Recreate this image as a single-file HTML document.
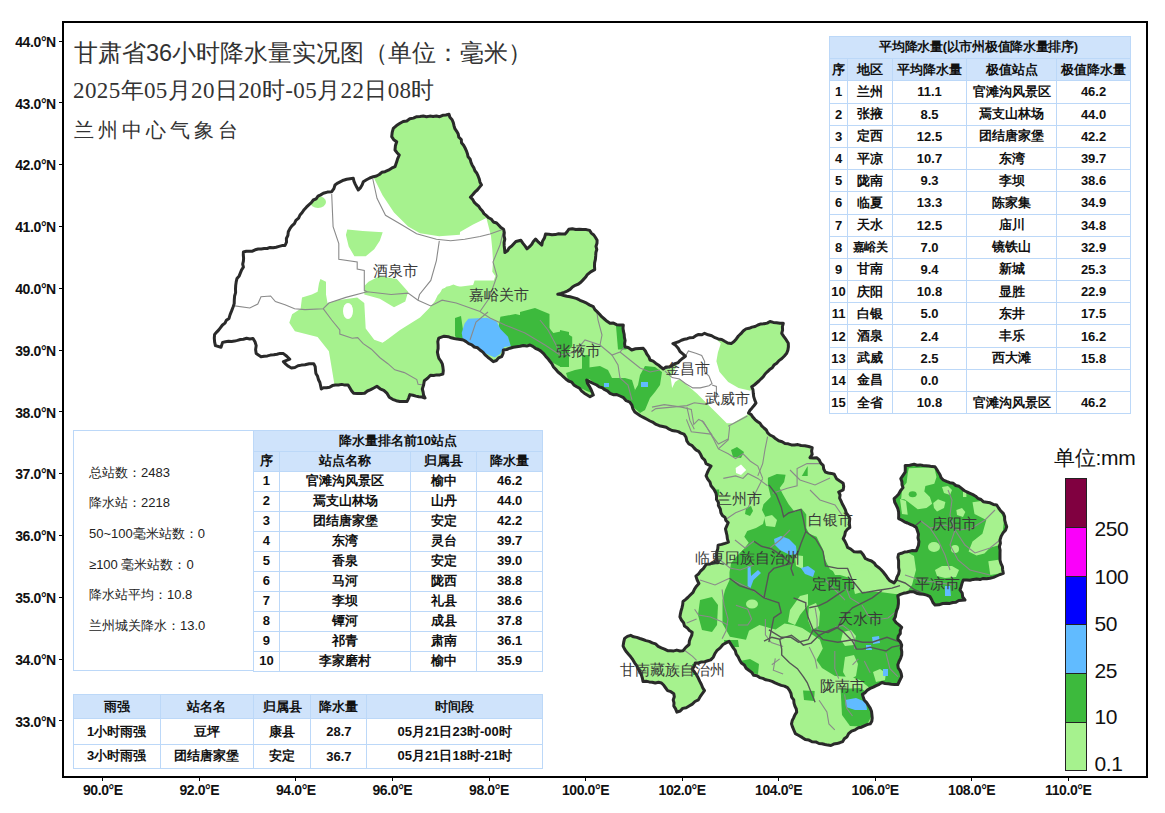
<!DOCTYPE html>
<html><head><meta charset="utf-8">
<style>
*{margin:0;padding:0;box-sizing:border-box}
html,body{width:1165px;height:813px;background:#fff;overflow:hidden;font-family:"Liberation Sans",sans-serif}
.abs{position:absolute}
#frame{position:absolute;left:62px;top:21px;width:1086px;height:757px;border:2px solid #000}
.yl{position:absolute;left:0;width:55.8px;text-align:right;font-weight:bold;font-size:14px;letter-spacing:-0.4px;color:#111;line-height:16px}
.xl{position:absolute;top:782px;width:60px;text-align:center;font-weight:bold;font-size:14px;letter-spacing:-0.4px;color:#111;line-height:16px}
.tk{position:absolute;background:#000}
table{border-collapse:collapse;position:absolute;font-weight:bold;font-size:13px;color:#111;table-layout:fixed}
td{border:1px solid #bcd8f8;text-align:center;padding:0;white-space:nowrap;overflow:hidden}
.h td,td.h{background:#cfe3fb}
</style></head><body>

<div id="frame"></div>
<div class="yl" style="top:33.8px">44.0°N</div>
<div class="tk" style="left:59px;top:40.5px;width:3px;height:1px"></div>
<div class="yl" style="top:95.6px">43.0°N</div>
<div class="tk" style="left:59px;top:102.3px;width:3px;height:1px"></div>
<div class="yl" style="top:157.4px">42.0°N</div>
<div class="tk" style="left:59px;top:164.1px;width:3px;height:1px"></div>
<div class="yl" style="top:219.2px">41.0°N</div>
<div class="tk" style="left:59px;top:225.9px;width:3px;height:1px"></div>
<div class="yl" style="top:281.0px">40.0°N</div>
<div class="tk" style="left:59px;top:287.7px;width:3px;height:1px"></div>
<div class="yl" style="top:342.8px">39.0°N</div>
<div class="tk" style="left:59px;top:349.5px;width:3px;height:1px"></div>
<div class="yl" style="top:404.6px">38.0°N</div>
<div class="tk" style="left:59px;top:411.3px;width:3px;height:1px"></div>
<div class="yl" style="top:466.4px">37.0°N</div>
<div class="tk" style="left:59px;top:473.1px;width:3px;height:1px"></div>
<div class="yl" style="top:528.2px">36.0°N</div>
<div class="tk" style="left:59px;top:534.9px;width:3px;height:1px"></div>
<div class="yl" style="top:590.0px">35.0°N</div>
<div class="tk" style="left:59px;top:596.7px;width:3px;height:1px"></div>
<div class="yl" style="top:651.8px">34.0°N</div>
<div class="tk" style="left:59px;top:658.5px;width:3px;height:1px"></div>
<div class="yl" style="top:713.6px">33.0°N</div>
<div class="tk" style="left:59px;top:720.3px;width:3px;height:1px"></div>
<div class="xl" style="left:72.8px">90.0°E</div>
<div class="tk" style="left:102.3px;top:778px;width:1px;height:3px"></div>
<div class="xl" style="left:169.3px">92.0°E</div>
<div class="tk" style="left:198.8px;top:778px;width:1px;height:3px"></div>
<div class="xl" style="left:265.9px">94.0°E</div>
<div class="tk" style="left:295.4px;top:778px;width:1px;height:3px"></div>
<div class="xl" style="left:362.4px">96.0°E</div>
<div class="tk" style="left:391.9px;top:778px;width:1px;height:3px"></div>
<div class="xl" style="left:459.0px">98.0°E</div>
<div class="tk" style="left:488.5px;top:778px;width:1px;height:3px"></div>
<div class="xl" style="left:555.5px">100.0°E</div>
<div class="tk" style="left:585.0px;top:778px;width:1px;height:3px"></div>
<div class="xl" style="left:652.1px">102.0°E</div>
<div class="tk" style="left:681.6px;top:778px;width:1px;height:3px"></div>
<div class="xl" style="left:748.6px">104.0°E</div>
<div class="tk" style="left:778.1px;top:778px;width:1px;height:3px"></div>
<div class="xl" style="left:845.2px">106.0°E</div>
<div class="tk" style="left:874.7px;top:778px;width:1px;height:3px"></div>
<div class="xl" style="left:941.7px">108.0°E</div>
<div class="tk" style="left:971.2px;top:778px;width:1px;height:3px"></div>
<div class="xl" style="left:1038.3px">110.0°E</div>
<div class="tk" style="left:1067.8px;top:778px;width:1px;height:3px"></div>
<svg class="abs" style="left:0;top:0" width="1165" height="813" viewBox="0 0 1165 813">
<defs><clipPath id="gs"><polygon points="393.3,128.3 400.0,123.3 416.7,116.7 439.7,116.7 449.0,114.3 481.5,184.9 470.4,197.2 486.4,215.6 503.6,229.2 504.9,252.5 515.9,241.5 520.9,240.2 527.0,248.8 535.6,239.0 541.8,245.1 545.5,234.1 565.1,234.1 568.8,229.2 589.7,230.4 597.1,240.2 595.9,252.5 594.7,269.7 587.3,274.7 581.1,282.0 570.1,289.4 557.8,294.3 570.0,296.7 583.3,301.7 593.3,306.7 601.7,316.7 610.0,323.3 623.3,325.0 625.0,346.7 631.7,350.0 643.3,348.3 650.0,360.0 663.3,369.0 678.0,362.8 685.4,356.2 672.9,343.6 704.6,333.3 715.0,337.7 731.2,343.6 746.0,328.9 770.0,321.5 783.3,323.3 781.7,333.3 788.3,343.3 786.7,353.3 776.7,363.3 763.3,376.7 751.7,386.7 756.0,403.0 748.5,413.0 760.0,423.3 770.0,435.0 785.0,443.5 801.1,445.5 812.2,447.7 812.2,454.4 810.0,457.7 816.6,457.7 823.2,465.4 825.4,472.1 834.3,474.3 836.5,478.7 843.2,483.2 843.2,489.8 838.7,492.0 841.0,500.9 845.4,509.8 849.8,518.6 849.8,527.5 845.4,531.9 843.2,538.6 847.6,547.4 854.2,551.8 860.9,551.8 865.3,558.5 874.2,562.9 878.6,567.4 883.0,571.8 889.7,580.6 894.1,582.9 898.6,574.0 898.6,554.1 907.4,551.8 916.3,550.7 918.5,545.2 918.5,534.1 916.3,527.5 907.4,523.0 898.6,518.6 898.6,512.0 896.3,505.3 894.1,498.7 898.6,494.2 903.0,487.6 900.8,478.7 905.2,472.1 905.2,465.4 914.1,464.3 935.0,466.7 943.3,480.0 953.3,483.3 970.0,493.3 983.3,501.7 996.7,505.0 1003.3,513.3 1006.7,526.7 1000.0,540.0 1000.0,556.7 1003.3,573.3 990.0,578.3 963.3,580.0 960.0,590.0 965.0,600.0 946.7,603.3 935.0,605.0 930.0,596.7 913.3,591.7 903.3,593.3 897.8,595.9 897.8,607.7 893.9,619.5 901.7,627.4 897.8,639.2 901.7,645.1 901.7,655.0 897.8,664.8 901.7,676.6 897.8,684.5 882.0,682.5 870.2,688.4 862.4,694.3 864.3,700.2 870.2,708.1 872.2,718.0 870.2,723.9 858.4,727.8 848.6,733.7 842.7,741.6 830.9,745.5 819.0,743.5 805.3,739.6 795.4,733.7 791.5,723.9 796.7,712.1 793.7,699.9 787.5,687.6 772.1,681.4 753.7,675.3 741.4,663.0 735.3,650.7 729.1,641.4 723.0,644.5 716.8,650.7 710.7,659.9 695.3,663.0 692.2,669.1 698.4,678.3 704.5,690.6 698.4,699.9 689.1,706.0 676.9,712.1 673.8,706.0 673.8,693.7 667.6,690.6 661.5,683.0 643.0,681.4 640.0,672.2 630.7,656.8 623.1,646.1 624.6,638.4 630.7,635.3 649.2,641.4 667.6,650.7 683.0,650.7 689.1,644.5 692.2,632.2 684.5,626.1 679.9,616.9 683.0,601.5 690.0,595.3 693.0,592.4 698.9,583.5 695.9,576.1 703.3,568.7 706.2,564.3 718.1,562.8 716.6,555.5 718.1,545.1 728.4,542.2 725.5,528.9 728.2,522.7 720.9,512.8 718.4,505.5 716.0,493.2 711.0,485.8 706.1,475.9 711.0,466.1 706.1,463.6 698.7,451.3 688.9,444.0 684.0,434.1 669.2,429.2 650.0,421.0 634.8,412.0 629.8,402.1 620.0,396.0 610.0,393.3 596.7,385.0 586.7,380.0 593.3,395.0 590.0,396.7 576.7,386.7 563.3,376.7 553.3,366.7 543.3,353.3 530.0,345.0 516.7,346.7 503.3,350.0 501.7,356.7 493.3,361.7 480.0,350.0 463.3,340.0 448.3,336.7 444.2,336.2 438.7,338.2 437.4,352.0 442.9,367.1 442.9,374.0 430.5,375.3 424.3,380.8 422.3,389.0 425.0,398.0 409.9,394.6 407.1,401.4 396.2,400.7 389.3,397.3 383.8,390.4 376.9,386.3 364.6,393.2 353.6,393.2 348.1,385.0 338.5,385.0 323.4,387.7 321.3,389.0 313.7,363.7 305.0,364.8 291.4,368.0 283.4,361.6 289.8,359.2 283.4,353.6 261.0,356.8 256.2,353.6 256.2,345.6 253.0,338.4 243.4,339.2 222.6,342.4 221.0,347.2 215.4,345.6 214.6,334.4 229.0,318.4 233.0,307.2 234.6,296.0 237.0,278.4 243.4,267.2 243.4,252.0 285.0,245.5 288.3,231.7 300.0,215.0 313.3,200.0 323.3,193.3 331.7,191.7 335.0,185.0 346.7,179.3 353.3,178.3 358.3,190.0 363.3,181.7 373.3,176.7 385.0,171.7 395.0,166.7 396.7,161.7 399.3,155.0 395.0,150.0 396.7,141.7 391.7,136.7"/></clipPath></defs>
<polygon points="393.3,128.3 400.0,123.3 416.7,116.7 439.7,116.7 449.0,114.3 481.5,184.9 470.4,197.2 486.4,215.6 503.6,229.2 504.9,252.5 515.9,241.5 520.9,240.2 527.0,248.8 535.6,239.0 541.8,245.1 545.5,234.1 565.1,234.1 568.8,229.2 589.7,230.4 597.1,240.2 595.9,252.5 594.7,269.7 587.3,274.7 581.1,282.0 570.1,289.4 557.8,294.3 570.0,296.7 583.3,301.7 593.3,306.7 601.7,316.7 610.0,323.3 623.3,325.0 625.0,346.7 631.7,350.0 643.3,348.3 650.0,360.0 663.3,369.0 678.0,362.8 685.4,356.2 672.9,343.6 704.6,333.3 715.0,337.7 731.2,343.6 746.0,328.9 770.0,321.5 783.3,323.3 781.7,333.3 788.3,343.3 786.7,353.3 776.7,363.3 763.3,376.7 751.7,386.7 756.0,403.0 748.5,413.0 760.0,423.3 770.0,435.0 785.0,443.5 801.1,445.5 812.2,447.7 812.2,454.4 810.0,457.7 816.6,457.7 823.2,465.4 825.4,472.1 834.3,474.3 836.5,478.7 843.2,483.2 843.2,489.8 838.7,492.0 841.0,500.9 845.4,509.8 849.8,518.6 849.8,527.5 845.4,531.9 843.2,538.6 847.6,547.4 854.2,551.8 860.9,551.8 865.3,558.5 874.2,562.9 878.6,567.4 883.0,571.8 889.7,580.6 894.1,582.9 898.6,574.0 898.6,554.1 907.4,551.8 916.3,550.7 918.5,545.2 918.5,534.1 916.3,527.5 907.4,523.0 898.6,518.6 898.6,512.0 896.3,505.3 894.1,498.7 898.6,494.2 903.0,487.6 900.8,478.7 905.2,472.1 905.2,465.4 914.1,464.3 935.0,466.7 943.3,480.0 953.3,483.3 970.0,493.3 983.3,501.7 996.7,505.0 1003.3,513.3 1006.7,526.7 1000.0,540.0 1000.0,556.7 1003.3,573.3 990.0,578.3 963.3,580.0 960.0,590.0 965.0,600.0 946.7,603.3 935.0,605.0 930.0,596.7 913.3,591.7 903.3,593.3 897.8,595.9 897.8,607.7 893.9,619.5 901.7,627.4 897.8,639.2 901.7,645.1 901.7,655.0 897.8,664.8 901.7,676.6 897.8,684.5 882.0,682.5 870.2,688.4 862.4,694.3 864.3,700.2 870.2,708.1 872.2,718.0 870.2,723.9 858.4,727.8 848.6,733.7 842.7,741.6 830.9,745.5 819.0,743.5 805.3,739.6 795.4,733.7 791.5,723.9 796.7,712.1 793.7,699.9 787.5,687.6 772.1,681.4 753.7,675.3 741.4,663.0 735.3,650.7 729.1,641.4 723.0,644.5 716.8,650.7 710.7,659.9 695.3,663.0 692.2,669.1 698.4,678.3 704.5,690.6 698.4,699.9 689.1,706.0 676.9,712.1 673.8,706.0 673.8,693.7 667.6,690.6 661.5,683.0 643.0,681.4 640.0,672.2 630.7,656.8 623.1,646.1 624.6,638.4 630.7,635.3 649.2,641.4 667.6,650.7 683.0,650.7 689.1,644.5 692.2,632.2 684.5,626.1 679.9,616.9 683.0,601.5 690.0,595.3 693.0,592.4 698.9,583.5 695.9,576.1 703.3,568.7 706.2,564.3 718.1,562.8 716.6,555.5 718.1,545.1 728.4,542.2 725.5,528.9 728.2,522.7 720.9,512.8 718.4,505.5 716.0,493.2 711.0,485.8 706.1,475.9 711.0,466.1 706.1,463.6 698.7,451.3 688.9,444.0 684.0,434.1 669.2,429.2 650.0,421.0 634.8,412.0 629.8,402.1 620.0,396.0 610.0,393.3 596.7,385.0 586.7,380.0 593.3,395.0 590.0,396.7 576.7,386.7 563.3,376.7 553.3,366.7 543.3,353.3 530.0,345.0 516.7,346.7 503.3,350.0 501.7,356.7 493.3,361.7 480.0,350.0 463.3,340.0 448.3,336.7 444.2,336.2 438.7,338.2 437.4,352.0 442.9,367.1 442.9,374.0 430.5,375.3 424.3,380.8 422.3,389.0 425.0,398.0 409.9,394.6 407.1,401.4 396.2,400.7 389.3,397.3 383.8,390.4 376.9,386.3 364.6,393.2 353.6,393.2 348.1,385.0 338.5,385.0 323.4,387.7 321.3,389.0 313.7,363.7 305.0,364.8 291.4,368.0 283.4,361.6 289.8,359.2 283.4,353.6 261.0,356.8 256.2,353.6 256.2,345.6 253.0,338.4 243.4,339.2 222.6,342.4 221.0,347.2 215.4,345.6 214.6,334.4 229.0,318.4 233.0,307.2 234.6,296.0 237.0,278.4 243.4,267.2 243.4,252.0 285.0,245.5 288.3,231.7 300.0,215.0 313.3,200.0 323.3,193.3 331.7,191.7 335.0,185.0 346.7,179.3 353.3,178.3 358.3,190.0 363.3,181.7 373.3,176.7 385.0,171.7 395.0,166.7 396.7,161.7 399.3,155.0 395.0,150.0 396.7,141.7 391.7,136.7" fill="#a6f28e"/>
<g clip-path="url(#gs)">
<polygon points="373.3,176.7 382.7,195.5 394.0,212.5 408.1,226.6 420.0,233.3 439.2,236.2 459.9,234.8 460.0,232.0 473.1,224.4 486.4,218.0 491.0,236.0 492.3,249.5 493.0,261.3 492.3,271.7 495.3,276.1 493.8,280.5 474.6,280.5 473.1,285.0 461.3,286.4 446.6,286.4 437.7,295.3 434.8,301.2 428.9,308.6 420.0,317.4 400.0,330.0 380.0,345.0 360.0,360.0 330.0,400.0 200.0,400.0 200.0,170.0" fill="#fff"/>
<polygon points="347.3,229.4 362.8,230.9 382.7,232.3 379.8,240.8 374.2,249.3 365.7,256.3 354.4,256.3 348.7,246.4 345.9,235.1" fill="#a6f28e"/>
<polygon points="368.5,281.8 379.8,276.1 396.8,279.0 408.1,291.7 405.3,301.6 394.0,307.3 379.8,298.8 364.3,294.5 364.3,286.0" fill="#a6f28e"/>
<polygon points="320.4,279.0 326.0,281.8 326.0,294.5 327.5,303.0 337.4,300.2 357.2,297.4 364.3,303.0 365.7,328.5 374.2,339.8 382.7,342.7 396.8,334.2 419.5,320.0 436.4,300.2 442.1,288.9 453.4,284.6 464.7,288.9 473.2,294.5 480.0,288.9 500.0,280.0 520.0,300.0 520.0,420.0 430.0,420.0 334.5,420.0 334.5,385.1 331.7,368.1 328.9,351.2 317.6,337.0 294.9,331.3 289.3,322.8 292.1,314.3 300.6,308.7 302.0,297.4 311.9,294.5 317.6,291.7 319.0,283.2" fill="#a6f28e"/>
<ellipse cx="318" cy="202" rx="8" ry="6" fill="#a6f28e"/>
<ellipse cx="348" cy="311" rx="5" ry="8" fill="#fff"/>
<polygon points="672.9,343.6 704.6,333.3 715.0,337.7 720.8,343.6 717.9,352.5 716.4,361.3 719.4,371.7 728.2,382.0 738.6,387.9 750.4,390.8 753.3,386.4 757.0,400.0 750.4,408.6 747.4,414.5 732.7,423.3 726.8,423.3 715.0,411.5 706.1,402.7 697.2,393.8 686.9,385.0 679.5,379.0 675.1,382.0 672.1,387.9 670.7,377.6 678.0,362.8 685.4,356.2" fill="#fff"/>
<polygon points="735.7,468 741,464.4 746.2,470 741,474.9 736,473" fill="#fff"/>
<polygon points="455.0,318.0 461.0,316.0 463.0,330.0 466.0,340.0 470.0,345.0 460.0,342.0 455.0,336.0" fill="#3dba3d"/>
<polygon points="500.4,316.8 515.5,314.0 530.7,317.8 545.8,323.4 553.3,332.9 562.8,331.0 572.2,336.7 572.2,346.1 564.6,355.5 560.9,366.9 553.3,363.1 545.8,355.5 534.4,349.9 526.9,344.2 519.3,348.0 511.8,348.0 504.2,336.7 498.5,327.2" fill="#3dba3d"/>
<polygon points="520.0,312.0 535.0,308.0 549.5,314.0 549.5,329.0 520.0,329.0" fill="#3dba3d"/>
<polygon points="560.0,330.0 569.0,332.0 569.0,367.0 560.0,367.0" fill="#3dba3d"/>
<polygon points="566.0,373.0 575.0,370.0 585.0,368.0 600.0,366.0 608.0,370.0 612.0,378.0 625.0,378.0 632.0,380.0 635.0,390.0 632.0,402.0 622.0,396.8 611.7,395.3 601.4,389.4 589.5,379.1 586.6,380.6 594.0,393.8 586.6,390.9 568.9,382.0" fill="#3dba3d"/>
<polygon points="582.0,355.0 589.5,355.0 589.5,376.0 582.0,376.0" fill="#3dba3d"/>
<polygon points="645.0,366.0 655.0,367.0 662.0,372.0 660.0,385.0 655.0,392.0 650.0,398.0 645.0,410.0 640.0,413.0 631.0,405.0 632.0,395.0 638.0,385.0 640.0,375.0" fill="#3dba3d"/>
<polygon points="616.0,326.0 626.5,326.0 626.5,349.5 618.0,349.5" fill="#3dba3d"/>
<polygon points="767.9,477.7 776.8,474.0 785.6,474.8 784.1,482.1 779.7,488.0 782.7,494.0 788.6,504.3 794.5,511.7 801.8,508.7 806.3,514.6 806.3,527.9 809.2,533.8 816.6,536.8 822.5,548.6 825.5,560.4 829.9,569.2 840.0,575.0 850.0,578.0 865.0,592.0 880.0,592.0 895.0,594.0 905.0,600.0 905.0,690.0 872.0,690.0 860.0,680.0 851.0,677.0 835.0,676.0 822.0,668.0 816.5,660.0 822.8,648.6 819.9,639.7 811.0,633.8 802.2,627.9 793.3,625.0 784.5,623.5 775.6,629.4 769.7,627.9 759.4,625.0 749.0,630.8 746.0,639.7 729.9,636.8 722.5,623.5 722.5,600.0 725.0,590.0 729.5,580.0 729.5,572.2 731.0,563.3 736.9,555.9 744.3,548.6 748.7,542.7 744.3,536.8 747.2,531.0 756.0,528.0 763.0,524.0 765.0,516.0 762.0,510.0 763.5,504.3 770.8,496.9 767.9,485.1" fill="#3dba3d"/>
<polygon points="700.0,600.0 712.0,597.0 718.0,605.0 717.0,625.0 712.0,632.0 702.0,630.0 698.0,615.0" fill="#3dba3d"/>
<polygon points="724.0,640.0 738.0,640.0 739.0,647.0 725.0,647.0" fill="#3dba3d"/>
<polygon points="740.0,661.0 750.0,659.0 759.0,664.0 758.0,674.0 742.0,673.0" fill="#3dba3d"/>
<polygon points="692.0,664.0 700.0,663.0 701.0,675.0 693.0,675.0" fill="#3dba3d"/>
<polygon points="840.6,689.0 860.0,688.0 872.0,695.0 872.0,715.0 866.0,726.8 850.0,726.0 842.0,715.0" fill="#3dba3d"/>
<polygon points="803.0,690.6 814.7,691.0 814.0,701.0 804.0,700.0" fill="#3dba3d"/>
<polygon points="746.0,508.0 751.0,506.0 753.0,511.0 750.0,516.0 745.0,514.0" fill="#3dba3d"/>
<polygon points="714.8,489.5 719.2,489.5 719.2,495.4 714.8,495.4" fill="#3dba3d"/>
<polygon points="801.8,476.0 807.7,466.0 807.7,476.0" fill="#3dba3d"/>
<polygon points="731.0,450.0 737.0,447.0 744.0,452.0 741.0,458.0 733.0,457.0" fill="#3dba3d"/>
<polygon points="895.0,460.0 1010.0,460.0 1010.0,610.0 895.0,610.0" fill="#3dba3d"/>
<polygon points="908.8,468.3 934.3,467.2 936.5,477.1 934.3,483.8 925.4,486.0 924.3,491.5 929.9,497.1 932.1,503.7 926.5,508.1 917.7,509.2 907.7,501.5 904.4,499.3 901.1,499.3 902.2,488.2 906.6,482.7 907.7,473.8" fill="#a6f28e"/>
<polygon points="900.0,499.0 906.0,501.0 907.7,514.8 902.0,514.0" fill="#a6f28e"/>
<polygon points="933.2,503.0 938.0,499.3 945.4,502.0 944.0,508.0 937.0,511.5 934.0,508.0" fill="#a6f28e"/>
<polygon points="942.0,487.0 948.0,486.0 952.0,490.0 950.0,494.9 944.0,493.0" fill="#a6f28e"/>
<polygon points="956.4,510.0 962.0,508.0 965.3,512.0 963.0,517.0 957.0,515.0" fill="#a6f28e"/>
<polygon points="963.0,490.4 966.4,490.4 966.4,497.1 963.0,497.1" fill="#a6f28e"/>
<polygon points="972.5,502.3 986.3,500.3 998.1,506.2 1004.0,520.0 1002.1,537.7 998.1,545.6 990.3,547.5 984.4,553.4 976.5,555.4 968.6,551.5 972.5,541.6 982.4,533.8 986.3,520.0 974.5,514.1" fill="#a6f28e"/>
<polygon points="988.3,561.3 1000.1,559.4 1002.1,573.1 990.3,575.1" fill="#a6f28e"/>
<polygon points="895.0,553.0 905.0,551.0 914.0,556.0 916.0,570.0 912.0,585.0 906.0,593.0 895.0,593.0" fill="#a6f28e"/>
<polygon points="935.0,570.0 942.0,566.0 952.0,566.0 959.0,570.0 956.0,577.0 945.0,578.0 937.0,576.0" fill="#a6f28e"/>
<polygon points="764.0,517.0 772.0,515.0 777.0,520.0 775.0,527.0 766.0,526.0" fill="#a6f28e"/>
<polygon points="795.0,555.0 803.0,556.0 803.0,569.0 796.0,566.0" fill="#a6f28e"/>
<polygon points="790.0,610.0 800.0,596.0 808.0,594.0 808.0,605.0 800.0,615.0 795.0,625.0 788.0,622.0" fill="#a6f28e"/>
<polygon points="809.0,606.0 816.0,603.0 820.0,612.0 819.0,626.0 812.0,630.0 808.0,620.0" fill="#a6f28e"/>
<polygon points="830.0,565.0 845.0,562.0 855.0,565.0 850.0,575.0 835.0,575.0" fill="#a6f28e"/>
<polygon points="850.0,572.0 868.0,570.0 870.0,590.0 855.0,594.0" fill="#a6f28e"/>
<polygon points="893.0,582.0 905.0,580.0 910.0,594.0 895.0,594.0" fill="#a6f28e"/>
<polygon points="843.0,632.0 851.0,630.0 856.0,636.0 854.0,645.0 845.0,646.0 841.0,640.0" fill="#a6f28e"/>
<polygon points="845.0,657.0 854.0,655.0 858.0,664.0 856.0,676.0 848.0,681.0 843.0,672.0" fill="#a6f28e"/>
<polygon points="873.0,672.0 880.0,669.0 886.0,673.0 885.0,680.0 876.0,682.0" fill="#a6f28e"/>
<ellipse cx="752" cy="604" rx="6" ry="4.5" fill="#a6f28e"/>
<ellipse cx="912.7" cy="494.3" rx="4" ry="3" fill="#3dba3d"/>
<ellipse cx="934" cy="547" rx="6" ry="5" fill="#a6f28e"/>
<ellipse cx="955" cy="549" rx="4" ry="4" fill="#a6f28e"/>
<polygon points="468.3,318.7 487.2,317.8 496.7,321.5 500.4,329.1 508.0,336.7 510.8,346.1 504.2,347.0 500.4,353.7 494.8,357.4 477.8,349.9 462.7,338.5 461.7,332.9 464.6,323.4" fill="#61bbff"/>
<polygon points="774.0,539.0 781.0,536.0 789.0,539.0 796.0,546.0 797.0,554.0 790.0,555.0 780.0,550.0 775.0,545.0" fill="#61bbff"/>
<polygon points="801.0,568.0 808.0,566.0 815.0,571.0 813.0,577.0 805.0,574.0" fill="#61bbff"/>
<polygon points="845.0,700.0 856.0,698.0 866.0,702.0 867.0,710.0 855.0,710.0 846.0,707.0" fill="#61bbff"/>
<polygon points="872.0,637.0 879.0,636.0 880.0,643.0 873.0,644.0" fill="#61bbff"/>
<polygon points="866.0,645.0 871.0,645.0 872.0,650.0 866.0,650.0" fill="#61bbff"/>
<polygon points="883.0,669.0 888.0,669.0 888.0,676.0 883.0,676.0" fill="#61bbff"/>
<polygon points="604.0,383.0 609.0,383.0 609.0,387.0 604.0,387.0" fill="#61bbff"/>
<polygon points="641.0,382.0 648.0,382.0 648.0,387.0 641.0,387.0" fill="#61bbff"/>
<polygon points="747.6,566.0 750.5,566.0 751.0,576.0 758.0,570.0 761.0,573.0 753.5,580.0 750.5,588.0 747.6,586.0" fill="#61bbff"/>
<polygon points="945.0,586.0 950.0,586.0 951.0,596.0 945.0,596.0" fill="#61bbff"/>
<polyline points="372.7,178.5 377.0,198.3 385.5,215.3 402.5,225.2 416.6,233.7 436.4,239.3 450.6,240.8 464.7,239.3 480.0,236.5 490.0,234.0 504.0,229.0" fill="none" stroke="#8a8a8a" stroke-width="1.1"/>
<polyline points="331.7,194.1 333.1,226.6 338.8,243.6 338.8,259.2 357.2,262.0 357.2,269.1 364.3,270.5 364.3,290.3 367.1,291.7" fill="none" stroke="#8a8a8a" stroke-width="1.1"/>
<polyline points="439.3,240.8 436.4,260.6 430.8,280.4 419.5,294.5 418.0,300.2" fill="none" stroke="#8a8a8a" stroke-width="1.1"/>
<polyline points="233.0,305.6 249.8,308.0 257.8,304.0 261.0,296.8 270.6,296.0 275.4,301.6 285.0,304.8 294.6,308.8 305.0,309.6 323.2,308.7 328.9,303.0 345.9,297.4 367.1,291.7 391.1,294.5 408.1,293.1 418.0,300.2 430.8,305.9 442.1,300.2 456.2,303.0 480.0,311.5 490.0,318.0 505.0,325.0 525.0,333.0 545.0,345.0 560.0,355.0" fill="none" stroke="#8a8a8a" stroke-width="1.1"/>
<polyline points="323.2,308.7 331.7,320.0 339.8,330.0 339.8,334.1 352.2,338.2 357.7,337.6 363.2,343.7 371.4,349.2 379.7,357.5 387.9,363.7 394.8,369.8 404.4,372.6 416.8,379.5 418.1,384.3 423.6,385.0" fill="none" stroke="#8a8a8a" stroke-width="1.1"/>
<polyline points="504.0,229.0 500.0,245.0 493.0,262.0 497.0,276.0 492.0,290.0 488.0,300.0 480.0,311.5" fill="none" stroke="#8a8a8a" stroke-width="1.1"/>
<polyline points="470.0,340.0 476.0,322.0 488.0,312.0" fill="none" stroke="#8a8a8a" stroke-width="1.1"/>
<polyline points="664.8,370.9 672.1,377.6 679.5,379.0 685.4,383.5 692.8,387.9 700.2,387.9 709.0,385.7 712.0,383.5 709.0,376.1 704.6,371.7 704.6,361.3 701.7,355.4 695.8,353.2 688.4,351.0 685.4,356.2" fill="none" stroke="#8a8a8a" stroke-width="1.1"/>
<polyline points="712.0,385.0 716.4,386.4 716.4,396.8 713.5,401.2 704.6,404.1 694.3,402.7 686.9,405.6 672.1,407.1 655.9,408.6 651.5,411.5" fill="none" stroke="#8a8a8a" stroke-width="1.1"/>
<polyline points="728.2,426.3 747.4,416.0" fill="none" stroke="#8a8a8a" stroke-width="1.1"/>
<polyline points="729.7,426.3 728.2,440.0 718.4,448.9" fill="none" stroke="#8a8a8a" stroke-width="1.1"/>
<polyline points="686.9,407.1 689.9,420.4 694.3,429.2" fill="none" stroke="#8a8a8a" stroke-width="1.1"/>
<polyline points="701.7,420.4 706.1,426.3 712.0,435.1" fill="none" stroke="#8a8a8a" stroke-width="1.1"/>
<polyline points="652.0,407.1 664.3,404.6 681.5,407.1 691.3,409.5 693.8,424.3 698.7,419.4 703.6,421.8 713.5,439.0 718.4,448.9 728.2,453.8 735.6,458.7 743.0,453.8 750.4,461.2 757.8,466.1 762.7,478.4" fill="none" stroke="#8a8a8a" stroke-width="1.1"/>
<polyline points="767.6,436.6 765.1,448.9 762.7,463.6 757.8,475.9" fill="none" stroke="#8a8a8a" stroke-width="1.1"/>
<polyline points="728.2,439.0 718.4,444.0 711.0,434.1 691.3,431.7 686.4,419.4" fill="none" stroke="#8a8a8a" stroke-width="1.1"/>
<polyline points="772.5,493.2 787.3,488.2 797.1,485.8 797.1,468.6 807.0,463.6 819.3,463.6" fill="none" stroke="#8a8a8a" stroke-width="1.1"/>
<polyline points="723.3,478.4 735.6,475.9 743.0,478.4 747.9,473.5 757.8,478.4 767.6,485.8" fill="none" stroke="#8a8a8a" stroke-width="1.1"/>
<polyline points="762.7,478.4 757.8,488.2 752.8,498.1 747.9,507.9 735.6,512.8 728.2,517.8 723.3,522.7" fill="none" stroke="#8a8a8a" stroke-width="1.1"/>
<polyline points="560.0,355.0 575.0,352.0 585.0,340.0 600.0,345.0 612.0,355.0 620.0,352.0 626.0,345.0" fill="none" stroke="#8a8a8a" stroke-width="1.1"/>
<polyline points="595.0,300.0 598.0,320.0 602.0,335.0 600.0,345.0" fill="none" stroke="#8a8a8a" stroke-width="1.1"/>
<polyline points="612.0,355.0 618.0,365.0 620.0,378.0 628.0,385.0 632.0,400.0" fill="none" stroke="#8a8a8a" stroke-width="1.1"/>
<polyline points="620.0,352.0 630.0,360.0 640.0,368.0 650.0,372.0 660.0,370.0" fill="none" stroke="#8a8a8a" stroke-width="1.1"/>
<polyline points="540.0,320.0 548.0,330.0 556.0,345.0 560.0,355.0" fill="none" stroke="#8a8a8a" stroke-width="1.1"/>
<polyline points="694.6,609.2 698.5,615.1 710.3,617.0 720.2,621.0 728.0,625.0" fill="none" stroke="#8a8a8a" stroke-width="1.1"/>
<polyline points="686.7,623.0 696.6,619.0" fill="none" stroke="#8a8a8a" stroke-width="1.1"/>
<polyline points="684.8,650.5 692.6,656.4 696.6,660.3" fill="none" stroke="#8a8a8a" stroke-width="1.1"/>
<polyline points="722.1,589.5 724.1,605.2 728.0,619.0 726.1,630.8 722.1,638.7" fill="none" stroke="#8a8a8a" stroke-width="1.1"/>
<polyline points="732.0,579.7 747.7,587.5 761.5,595.4 767.4,599.3" fill="none" stroke="#8a8a8a" stroke-width="1.1"/>
<polyline points="735.9,605.2 747.7,609.2 751.6,619.0 747.7,625.0 737.9,625.0" fill="none" stroke="#8a8a8a" stroke-width="1.1"/>
<polyline points="765.4,619.0 765.4,634.8 771.3,642.6 783.1,646.6" fill="none" stroke="#8a8a8a" stroke-width="1.1"/>
<polyline points="775.3,658.4 773.3,670.2 783.1,674.1" fill="none" stroke="#8a8a8a" stroke-width="1.1"/>
<polyline points="809.2,647.1 815.1,658.9 817.1,668.7" fill="none" stroke="#8a8a8a" stroke-width="1.1"/>
<polyline points="834.8,651.0 834.8,668.7 838.7,678.6" fill="none" stroke="#8a8a8a" stroke-width="1.1"/>
<polyline points="852.5,664.8 858.4,658.9" fill="none" stroke="#8a8a8a" stroke-width="1.1"/>
<polyline points="844.6,694.3 846.6,708.1 852.5,716.0" fill="none" stroke="#8a8a8a" stroke-width="1.1"/>
<polyline points="819.1,700.2 826.9,712.0 828.9,723.9 834.8,729.8" fill="none" stroke="#8a8a8a" stroke-width="1.1"/>
<polyline points="771.8,664.8 779.7,658.9" fill="none" stroke="#8a8a8a" stroke-width="1.1"/>
<polyline points="864.3,660.9 870.2,672.7" fill="none" stroke="#8a8a8a" stroke-width="1.1"/>
<polyline points="886.0,653.0 889.9,668.7 897.8,676.6" fill="none" stroke="#8a8a8a" stroke-width="1.1"/>
<polyline points="815.1,607.7 817.1,619.5 817.1,629.4 823.0,631.3" fill="none" stroke="#8a8a8a" stroke-width="1.1"/>
<polyline points="834.8,627.4 842.7,625.4 850.6,631.3 854.5,639.2 854.5,649.1" fill="none" stroke="#8a8a8a" stroke-width="1.1"/>
<polyline points="862.0,605.0 868.0,615.0 875.0,620.0 888.0,618.0 898.0,610.0" fill="none" stroke="#8a8a8a" stroke-width="1.1"/>
<polyline points="845.0,585.0 850.0,598.0 860.0,604.0" fill="none" stroke="#8a8a8a" stroke-width="1.1"/>
<polyline points="921.0,521.0 930.0,528.0 938.0,540.0 945.0,555.0 950.0,570.0" fill="none" stroke="#8a8a8a" stroke-width="1.1"/>
<polyline points="948.0,490.0 952.0,500.0 950.0,515.0 955.0,530.0 965.0,545.0 975.0,553.0 990.0,548.0 1000.0,540.0" fill="none" stroke="#8a8a8a" stroke-width="1.1"/>
<polyline points="930.0,528.0 945.0,525.0 960.0,530.0 972.0,528.0 985.0,520.0 995.0,510.0" fill="none" stroke="#8a8a8a" stroke-width="1.1"/>
<polyline points="955.0,530.0 950.0,545.0 958.0,560.0 970.0,570.0 990.0,575.0" fill="none" stroke="#8a8a8a" stroke-width="1.1"/>
<polyline points="905.0,575.0 920.0,580.0 940.0,583.0 955.0,585.0" fill="none" stroke="#8a8a8a" stroke-width="1.1"/>
<polyline points="790.0,470.0 800.0,480.0 815.0,485.0 830.0,478.0" fill="none" stroke="#8a8a8a" stroke-width="1.1"/>
<polyline points="810.0,490.0 820.0,500.0 835.0,505.0 842.0,515.0" fill="none" stroke="#8a8a8a" stroke-width="1.1"/>
<polyline points="790.0,530.0 780.0,540.0 770.0,548.0" fill="none" stroke="#8a8a8a" stroke-width="1.1"/>
<polyline points="825.0,580.0 835.0,590.0 845.0,600.0" fill="none" stroke="#8a8a8a" stroke-width="1.1"/>
<polyline points="735.0,540.0 745.0,548.0 754.0,541.0" fill="none" stroke="#8a8a8a" stroke-width="1.1"/>
<polyline points="720.0,560.0 730.0,568.0 740.0,570.0 754.0,565.0" fill="none" stroke="#8a8a8a" stroke-width="1.1"/>
<polyline points="700.0,580.0 715.0,585.0 729.5,578.2" fill="none" stroke="#8a8a8a" stroke-width="1.1"/>
<polyline points="768.9,484.8 776.3,494.6 781.2,506.9 783.6,516.7 788.6,513.0 800.9,509.4 803.3,519.2 805.8,531.5 800.9,543.8 798.4,551.2 793.5,558.6 791.0,568.4 793.5,575.8" fill="none" stroke="#555" stroke-width="1.4"/>
<polyline points="805.8,531.5 815.6,538.9 823.0,551.2 825.5,565.9 837.8,568.4 847.6,568.4 852.5,580.7 862.4,593.0 877.1,590.5 891.9,588.1 900.0,585.6" fill="none" stroke="#555" stroke-width="1.4"/>
<polyline points="754.1,541.3 761.5,546.3 771.3,548.7 778.7,553.6 791.0,563.5 773.8,568.4 768.9,573.3 766.4,585.6 764.0,597.9" fill="none" stroke="#555" stroke-width="1.4"/>
<polyline points="729.5,578.2 739.4,585.6 754.1,590.5 764.0,597.9 771.3,600.4 778.7,602.8 781.2,612.7 773.8,617.6 771.3,629.9 768.9,642.2" fill="none" stroke="#555" stroke-width="1.4"/>
<polyline points="805.8,607.8 808.2,617.6 813.2,629.9 827.9,632.4 837.8,627.4 842.7,617.6 852.5,607.8 862.4,602.8 872.2,597.9 882.0,590.5" fill="none" stroke="#555" stroke-width="1.4"/>
<polyline points="813.2,629.9 823.0,639.7 837.8,642.2 852.5,639.7 862.4,642.2 872.2,642.2 887.0,637.3 900.0,642.2" fill="none" stroke="#555" stroke-width="1.4"/>
<polyline points="768.9,629.9 781.2,637.3 791.0,637.3 798.4,642.2 808.2,639.7 813.2,629.9" fill="none" stroke="#555" stroke-width="1.4"/>
<polyline points="793.5,597.9 805.8,602.8 805.8,607.8" fill="none" stroke="#555" stroke-width="1.4"/>
<polyline points="764.0,641.2 771.8,637.2 779.7,639.2 785.6,637.2 791.5,635.3 799.4,641.2 803.3,645.1 811.2,643.1 819.1,635.3 826.9,631.3 836.8,627.4 842.7,631.3 848.6,637.2 852.5,641.2 856.5,649.1 862.4,649.1 870.2,647.1 878.1,649.1 886.0,651.0 891.9,647.1 901.7,645.1" fill="none" stroke="#555" stroke-width="1.4"/>
<polyline points="779.7,639.2 781.7,649.1 781.7,655.0 789.5,662.8 797.4,668.7 803.3,676.6 807.2,682.5 811.2,692.4 815.1,702.2" fill="none" stroke="#555" stroke-width="1.4"/>
<polyline points="809.2,607.7 819.1,605.7 826.9,601.8 832.8,597.9 838.7,593.9 844.6,590.0" fill="none" stroke="#555" stroke-width="1.4"/>
<polyline points="896.7,580.0 905.0,583.0 915.0,590.0 930.0,596.7" fill="none" stroke="#555" stroke-width="1.4"/>
<polyline points="900.0,520.0 910.0,530.0 921.0,521.0" fill="none" stroke="#555" stroke-width="1.4"/>
</g>
<polygon points="393.3,128.3 396.5,125.6 400.0,123.3 403.2,121.5 406.8,120.9 409.8,118.8 413.4,118.1 416.7,116.7 420.0,116.5 423.3,116.1 426.6,116.7 429.8,116.1 433.1,116.6 436.4,116.1 439.7,116.7 442.7,115.3 445.9,115.0 449.0,114.3 449.9,117.3 452.1,119.7 453.3,122.6 454.0,125.7 454.9,128.7 456.7,131.3 458.2,134.0 458.8,137.2 461.3,139.5 461.5,142.7 463.6,145.2 465.1,148.0 466.4,150.8 467.4,153.7 468.1,156.8 470.2,159.3 471.0,162.4 472.2,165.2 473.9,167.9 474.9,170.8 476.9,173.3 478.2,176.2 479.3,179.1 480.0,182.2 481.5,184.9 479.4,187.4 477.3,190.0 474.8,192.2 472.7,194.8 470.4,197.2 472.6,199.3 474.1,202.1 476.2,204.3 478.7,206.2 480.3,208.8 482.4,211.0 484.0,213.6 486.4,215.6 488.7,217.8 491.5,219.3 493.4,222.0 496.6,223.0 498.8,225.2 500.9,227.5 503.6,229.2 504.3,232.5 504.0,235.9 504.8,239.1 504.1,242.5 504.2,245.9 504.6,249.2 504.9,252.5 507.5,250.7 509.1,247.9 511.7,246.1 513.8,243.8 515.9,241.5 520.9,240.2 522.8,243.1 525.0,245.9 527.0,248.8 529.5,246.7 531.8,244.3 533.4,241.4 535.6,239.0 538.5,242.2 541.8,245.1 542.5,241.2 544.5,237.9 545.5,234.1 548.8,234.3 552.0,234.8 555.3,234.6 558.6,233.8 561.8,233.9 565.1,234.1 567.1,231.8 568.8,229.2 572.3,228.7 575.8,229.5 579.3,229.3 582.8,229.5 586.3,229.6 589.7,230.4 591.3,233.1 593.8,235.0 595.5,237.5 597.1,240.2 597.0,243.3 596.0,246.3 596.8,249.5 595.9,252.5 595.7,255.9 595.4,259.4 594.6,262.8 594.5,266.2 594.7,269.7 590.7,271.8 587.3,274.7 585.5,277.3 583.3,279.6 581.1,282.0 578.5,284.0 575.3,285.3 572.5,287.0 570.1,289.4 567.2,291.1 564.1,292.3 561.0,293.4 557.8,294.3 560.9,294.5 563.9,295.5 566.9,296.2 570.0,296.7 573.4,297.6 576.9,298.6 580.0,300.3 583.3,301.7 586.7,303.2 589.9,305.1 593.3,306.7 594.9,309.6 597.3,311.9 599.6,314.2 601.7,316.7 604.4,319.0 607.1,321.3 610.0,323.3 613.4,323.1 616.6,324.7 619.9,325.0 623.3,325.0 623.0,328.1 623.4,331.2 624.2,334.3 624.4,337.4 625.1,340.5 624.6,343.6 625.0,346.7 628.6,347.8 631.7,350.0 635.5,348.8 639.4,348.5 643.3,348.3 645.4,351.0 646.8,354.0 648.9,356.8 650.0,360.0 653.1,361.2 655.6,363.2 658.3,364.9 660.7,367.0 663.3,369.0 666.0,367.1 669.4,367.0 672.2,365.4 674.9,363.6 678.0,362.8 680.2,360.3 682.8,358.2 685.4,356.2 682.8,353.8 680.0,351.5 678.2,348.3 675.9,345.6 672.9,343.6 675.8,342.6 678.7,341.7 681.4,340.2 684.3,339.3 687.2,338.7 690.1,337.7 693.2,337.5 695.8,335.7 698.6,334.5 701.9,334.8 704.6,333.3 708.1,334.8 711.7,335.8 715.0,337.7 718.2,338.9 721.7,339.4 724.7,341.3 727.7,343.0 731.2,343.6 734.0,341.5 736.3,338.9 738.4,336.0 740.9,333.7 743.2,331.0 746.0,328.9 749.1,328.3 752.0,327.1 755.1,326.5 757.9,325.0 760.9,323.9 764.1,323.8 767.2,323.1 770.0,321.5 773.3,322.4 776.6,322.8 779.9,323.3 783.3,323.3 782.4,326.6 782.6,330.0 781.7,333.3 783.9,336.6 786.3,339.9 788.3,343.3 788.4,346.7 787.9,350.1 786.7,353.3 784.4,356.0 781.9,358.5 779.0,360.6 776.7,363.3 774.0,365.1 772.3,367.8 769.6,369.6 767.3,371.8 765.1,374.0 763.3,376.7 761.1,378.8 758.9,381.0 756.6,383.0 754.3,385.0 751.7,386.7 753.0,389.9 753.3,393.3 753.7,396.6 754.7,399.9 756.0,403.0 754.1,405.5 752.1,407.9 750.0,410.2 748.5,413.0 751.2,414.6 753.0,417.3 755.0,419.6 757.4,421.5 760.0,423.3 761.7,425.9 764.0,428.0 766.3,430.0 767.7,432.9 770.0,435.0 773.1,436.5 775.8,438.8 778.7,440.7 782.1,441.7 785.0,443.5 788.2,443.8 791.4,444.9 794.6,445.0 797.9,444.6 801.1,445.5 804.9,445.7 808.6,446.5 812.2,447.7 811.6,451.0 812.2,454.4 810.0,457.7 813.3,458.1 816.6,457.7 819.2,459.9 820.7,463.1 823.2,465.4 823.7,469.0 825.4,472.1 828.3,473.0 831.4,473.4 834.3,474.3 836.5,478.7 839.8,481.0 843.2,483.2 843.7,486.5 843.2,489.8 838.7,492.0 840.1,494.8 839.6,498.1 841.0,500.9 842.3,504.0 843.9,506.8 845.4,509.8 846.3,513.0 848.4,515.6 849.8,518.6 849.3,523.0 849.8,527.5 847.3,529.4 845.4,531.9 844.7,535.4 843.2,538.6 845.0,541.4 846.4,544.3 847.6,547.4 851.1,549.3 854.2,551.8 857.5,551.9 860.9,551.8 863.4,555.0 865.3,558.5 868.3,559.9 871.5,561.0 874.2,562.9 876.0,565.6 878.6,567.4 880.9,569.5 883.0,571.8 885.3,574.7 887.4,577.7 889.7,580.6 894.1,582.9 896.1,580.2 897.0,576.9 898.6,574.0 899.2,570.7 898.6,567.4 898.6,564.0 898.6,560.7 897.9,557.4 898.6,554.1 901.5,553.3 904.4,552.1 907.4,551.8 911.8,550.6 916.3,550.7 918.5,545.2 918.9,541.5 918.0,537.8 918.5,534.1 917.4,530.8 916.3,527.5 913.5,525.7 910.4,524.4 907.4,523.0 904.4,521.8 901.5,520.0 898.6,518.6 898.7,515.3 898.6,512.0 897.8,508.5 896.3,505.3 894.7,502.2 894.1,498.7 896.4,496.5 898.6,494.2 900.5,490.7 903.0,487.6 902.0,484.7 901.9,481.6 900.8,478.7 903.0,475.4 905.2,472.1 905.3,468.8 905.2,465.4 909.7,465.2 914.1,464.3 917.0,465.2 920.1,464.9 923.0,465.5 926.0,465.7 929.0,466.0 932.0,466.6 935.0,466.7 936.7,469.3 938.3,472.0 940.0,474.7 941.1,477.7 943.3,480.0 946.5,481.4 949.8,482.7 953.3,483.3 955.8,485.5 959.0,486.3 961.6,488.4 964.1,490.5 967.0,492.0 970.0,493.3 972.9,494.6 975.6,496.2 978.0,498.3 981.0,499.5 983.3,501.7 986.7,502.2 990.1,502.8 993.3,504.4 996.7,505.0 998.6,508.0 1000.7,510.9 1003.3,513.3 1004.6,516.5 1004.7,520.1 1005.6,523.4 1006.7,526.7 1005.5,530.2 1002.9,533.1 1001.1,536.4 1000.0,540.0 1000.4,543.3 999.4,546.7 1000.1,550.0 1000.0,553.4 1000.0,556.7 1000.0,560.2 1000.9,563.4 1002.4,566.6 1002.7,570.0 1003.3,573.3 1000.0,574.5 996.7,576.0 993.5,577.4 990.0,578.3 986.7,578.8 983.3,578.4 980.0,579.6 976.6,579.1 973.3,579.4 970.0,580.2 966.7,580.0 963.3,580.0 962.0,583.3 961.1,586.7 960.0,590.0 962.2,593.1 962.7,597.0 965.0,600.0 961.9,600.2 958.8,600.5 955.9,602.2 952.9,602.5 949.9,603.4 946.7,603.3 942.7,603.5 938.9,604.8 935.0,605.0 932.9,602.5 931.6,599.5 930.0,596.7 926.8,595.1 923.4,594.3 919.9,594.0 916.5,593.2 913.3,591.7 909.9,591.7 906.6,592.7 903.3,593.3 900.4,594.3 897.8,595.9 898.4,599.8 898.4,603.8 897.8,607.7 896.6,610.6 895.9,613.6 895.4,616.7 893.9,619.5 896.1,622.6 899.0,624.9 901.7,627.4 900.3,630.2 900.3,633.5 898.3,636.1 897.8,639.2 900.3,641.8 901.7,645.1 901.2,648.4 901.8,651.7 901.7,655.0 900.6,658.3 899.0,661.5 897.8,664.8 898.2,667.9 900.1,670.6 901.2,673.5 901.7,676.6 899.7,680.5 897.8,684.5 894.6,684.5 891.4,684.2 888.3,683.8 885.1,683.5 882.0,682.5 879.2,684.3 876.2,685.7 873.3,687.2 870.2,688.4 867.4,690.1 865.2,692.6 862.4,694.3 863.3,697.3 864.3,700.2 866.6,702.6 868.4,705.3 870.2,708.1 871.5,711.3 871.9,714.6 872.2,718.0 871.8,721.2 870.2,723.9 867.1,724.6 864.3,725.8 861.5,727.2 858.4,727.8 855.2,729.8 851.6,731.2 848.6,733.7 847.1,736.7 844.3,738.7 842.7,741.6 839.8,742.7 836.8,743.6 833.7,744.1 830.9,745.5 827.9,745.1 825.0,744.5 822.0,743.7 819.0,743.5 815.8,741.9 812.1,741.8 808.9,740.1 805.3,739.6 802.1,737.4 798.8,735.5 795.4,733.7 794.0,730.5 792.6,727.2 791.5,723.9 792.2,720.7 793.6,717.8 794.9,714.8 796.7,712.1 796.3,709.0 794.9,706.1 794.0,703.1 793.7,699.9 791.6,697.1 791.0,693.5 789.5,690.4 787.5,687.6 784.5,686.1 781.2,685.4 778.1,684.2 775.1,682.9 772.1,681.4 769.0,680.4 765.8,679.8 762.9,678.4 759.7,677.6 757.0,675.7 753.7,675.3 751.7,672.4 748.8,670.3 746.1,668.2 744.3,665.0 741.4,663.0 739.6,660.0 738.2,656.9 736.2,654.1 735.3,650.7 733.1,647.7 731.1,644.5 729.1,641.4 726.0,642.9 723.0,644.5 720.2,647.9 716.8,650.7 714.8,653.8 713.3,657.2 710.7,659.9 707.7,660.8 704.7,661.7 701.5,661.9 698.5,663.0 695.3,663.0 694.3,666.4 692.2,669.1 694.5,672.0 696.6,675.0 698.4,678.3 699.8,681.4 701.4,684.5 702.7,687.7 704.5,690.6 702.3,693.6 700.2,696.6 698.4,699.9 695.0,701.5 692.3,704.1 689.1,706.0 686.2,707.7 682.7,708.4 680.2,711.0 676.9,712.1 675.6,708.9 673.8,706.0 674.0,702.9 673.2,699.9 674.3,696.8 673.8,693.7 670.9,691.7 667.6,690.6 665.7,688.0 663.8,685.3 661.5,683.0 658.5,682.3 655.3,683.0 652.3,682.2 649.2,681.9 646.1,681.2 643.0,681.4 642.4,678.2 641.4,675.1 640.0,672.2 638.2,669.1 636.8,665.8 634.6,662.8 632.8,659.7 630.7,656.8 628.5,654.3 626.4,651.8 624.6,649.1 623.1,646.1 623.7,642.2 624.6,638.4 627.4,636.4 630.7,635.3 633.6,636.8 636.8,637.4 639.9,638.5 643.0,639.5 646.0,640.6 649.2,641.4 652.3,642.9 655.6,643.9 658.2,646.4 661.3,647.9 664.5,649.2 667.6,650.7 670.7,650.7 673.8,650.9 676.8,650.1 679.9,651.0 683.0,650.7 685.8,647.4 689.1,644.5 689.3,641.3 690.3,638.3 691.7,635.4 692.2,632.2 689.4,630.5 687.3,627.9 684.5,626.1 683.6,622.7 681.4,620.0 679.9,616.9 680.4,613.8 681.1,610.7 682.0,607.7 682.7,604.7 683.0,601.5 685.4,599.6 687.8,597.5 690.0,595.3 693.0,592.4 694.5,589.1 696.5,586.2 698.9,583.5 697.1,579.9 695.9,576.1 698.6,573.9 700.6,571.0 703.3,568.7 706.2,564.3 710.2,563.9 714.0,562.6 718.1,562.8 716.7,559.3 716.6,555.5 716.8,552.0 717.8,548.6 718.1,545.1 721.6,544.4 725.0,543.4 728.4,542.2 727.4,538.9 727.0,535.5 726.2,532.2 725.5,528.9 726.8,525.8 728.2,522.7 725.9,520.5 725.0,517.4 722.4,515.5 720.9,512.8 720.3,508.9 718.4,505.5 718.4,502.3 716.5,499.5 716.5,496.3 716.0,493.2 713.9,489.2 711.0,485.8 710.0,482.2 707.7,479.2 706.1,475.9 707.4,472.5 709.0,469.2 711.0,466.1 706.1,463.6 704.8,460.2 702.1,457.7 700.6,454.3 698.7,451.3 696.0,449.9 693.8,447.6 691.7,445.3 688.9,444.0 686.8,440.9 686.0,437.2 684.0,434.1 681.0,433.1 678.3,431.6 675.2,430.9 672.0,430.5 669.2,429.2 666.2,427.3 662.8,426.5 659.3,425.7 656.1,424.4 653.2,422.4 650.0,421.0 646.9,419.3 643.8,417.6 640.6,416.0 637.7,414.0 634.8,412.0 632.9,408.8 631.9,405.2 629.8,402.1 626.2,400.7 623.5,397.7 620.0,396.0 616.8,394.6 613.2,394.7 610.0,393.3 607.7,391.1 604.8,389.7 602.3,387.8 599.2,386.9 596.7,385.0 593.3,383.5 590.0,381.8 586.7,380.0 587.4,383.3 589.2,386.1 590.8,388.9 592.1,392.0 593.3,395.0 590.0,396.7 587.2,395.0 584.3,393.2 581.7,391.1 579.6,388.3 576.7,386.7 573.8,384.9 571.7,382.2 568.5,381.0 565.8,379.0 563.3,376.7 560.8,374.2 558.0,372.0 555.7,369.3 553.3,366.7 551.8,363.6 549.7,361.0 547.7,358.4 545.4,355.9 543.3,353.3 540.9,351.1 538.3,349.5 535.4,348.3 532.8,346.4 530.0,345.0 526.8,346.1 523.3,345.5 520.0,346.3 516.7,346.7 513.3,347.2 510.0,348.2 506.7,349.5 503.3,350.0 503.1,353.5 501.7,356.7 498.6,357.9 496.4,360.5 493.3,361.7 490.6,359.4 487.8,357.2 485.1,354.9 482.9,352.1 480.0,350.0 477.6,347.8 474.3,347.0 471.8,344.8 468.7,343.6 466.1,341.6 463.3,340.0 460.3,339.5 457.2,339.1 454.2,338.5 451.2,337.8 448.3,336.7 444.2,336.2 438.7,338.2 437.8,341.6 438.1,345.1 438.1,348.6 437.4,352.0 438.0,355.2 438.9,358.3 440.8,361.0 442.3,363.9 442.9,367.1 443.3,370.6 442.9,374.0 439.9,374.9 436.7,374.9 433.7,375.5 430.5,375.3 427.6,378.3 424.3,380.8 423.6,385.0 422.3,389.0 423.1,392.0 423.6,395.2 425.0,398.0 422.1,397.0 418.9,396.8 415.9,396.1 412.9,395.2 409.9,394.6 408.7,398.1 407.1,401.4 403.5,401.4 399.8,401.5 396.2,400.7 392.6,399.3 389.3,397.3 387.1,393.4 383.8,390.4 380.1,388.8 376.9,386.3 373.8,388.0 370.7,389.6 367.4,391.0 364.6,393.2 360.9,393.6 357.3,393.5 353.6,393.2 351.5,390.7 349.8,387.8 348.1,385.0 344.9,385.1 341.7,384.4 338.5,385.0 335.4,385.1 332.4,385.6 329.6,387.3 326.5,387.8 323.4,387.7 321.3,389.0 320.6,385.8 319.9,382.5 318.4,379.5 317.6,376.3 315.9,373.4 315.5,370.1 315.2,366.7 313.7,363.7 309.3,363.8 305.0,364.8 301.5,365.1 298.0,365.8 294.9,367.5 291.4,368.0 288.4,366.3 285.8,364.1 283.4,361.6 286.6,360.4 289.8,359.2 286.8,356.2 283.4,353.6 280.1,353.4 277.0,354.2 273.8,354.8 270.5,355.1 267.4,355.9 264.2,356.3 261.0,356.8 256.2,353.6 255.6,349.6 256.2,345.6 255.0,341.8 253.0,338.4 249.8,339.0 246.6,338.3 243.4,339.2 240.4,339.5 237.5,340.4 234.6,341.1 231.6,341.4 228.5,341.3 225.5,341.7 222.6,342.4 221.0,347.2 215.4,345.6 214.6,341.9 214.3,338.2 214.6,334.4 216.7,332.1 218.8,329.9 220.7,327.4 222.5,325.0 225.0,323.1 226.4,320.2 229.0,318.4 230.1,314.6 231.6,310.9 233.0,307.2 234.2,303.6 234.3,299.8 234.6,296.0 235.6,292.6 235.5,289.0 235.7,285.4 236.2,281.9 237.0,278.4 239.2,275.9 240.4,272.9 241.6,269.9 243.4,267.2 242.7,264.2 243.4,261.1 243.6,258.1 243.3,255.0 243.4,252.0 246.3,251.2 249.4,251.3 252.4,251.2 255.2,249.8 258.2,249.0 261.2,249.0 264.2,248.6 267.2,248.5 270.1,247.4 273.2,247.8 276.1,247.2 279.1,246.4 282.0,245.6 285.0,245.5 286.5,242.2 286.4,238.5 287.9,235.3 288.3,231.7 289.9,228.7 291.9,225.9 294.4,223.6 295.9,220.4 298.6,218.1 300.0,215.0 302.2,212.5 304.1,209.7 306.4,207.2 308.8,204.9 311.3,202.7 313.3,200.0 316.1,198.8 318.0,196.2 320.7,194.9 323.3,193.3 327.4,192.1 331.7,191.7 333.9,188.6 335.0,185.0 337.7,183.1 340.6,181.6 343.5,180.2 346.7,179.3 350.0,178.7 353.3,178.3 354.0,181.4 355.3,184.4 356.8,187.2 358.3,190.0 360.6,187.6 362.2,184.8 363.3,181.7 366.5,179.8 369.8,178.0 373.3,176.7 376.5,176.0 379.3,174.5 381.8,172.3 385.0,171.7 388.4,170.2 391.6,168.2 395.0,166.7 396.7,161.7 397.8,158.3 399.3,155.0 397.0,152.7 395.0,150.0 395.4,145.8 396.7,141.7 393.7,139.7 391.7,136.7 392.2,132.4" fill="none" stroke="#2a2a2a" stroke-width="3" stroke-linejoin="round"/>
<text x="373.3" y="275.6" font-size="14.5" fill="#383838" font-family="Liberation Sans, sans-serif">酒泉市</text>
<text x="469.4" y="300.3" font-size="14.5" fill="#383838" font-family="Liberation Sans, sans-serif">嘉峪关市</text>
<text x="555.8" y="355.6" font-size="14.5" fill="#383838" font-family="Liberation Sans, sans-serif">张掖市</text>
<text x="665.3" y="373.8" font-size="14.5" fill="#383838" font-family="Liberation Sans, sans-serif">金昌市</text>
<text x="705.0" y="403.5" font-size="14.5" fill="#383838" font-family="Liberation Sans, sans-serif">武威市</text>
<text x="716.7" y="503.5" font-size="14.5" fill="#383838" font-family="Liberation Sans, sans-serif">兰州市</text>
<text x="808.2" y="524.6" font-size="14.5" fill="#383838" font-family="Liberation Sans, sans-serif">白银市</text>
<text x="695.0" y="562.8" font-size="14.5" fill="#383838" font-family="Liberation Sans, sans-serif">临夏回族自治州</text>
<text x="811.5" y="588.9" font-size="14.5" fill="#383838" font-family="Liberation Sans, sans-serif">定西市</text>
<text x="838.1" y="624.3" font-size="14.5" fill="#383838" font-family="Liberation Sans, sans-serif">天水市</text>
<text x="931.9" y="529.0" font-size="14.5" fill="#383838" font-family="Liberation Sans, sans-serif">庆阳市</text>
<text x="915.1" y="589.1" font-size="14.5" fill="#383838" font-family="Liberation Sans, sans-serif">平凉市</text>
<text x="820.4" y="691.1" font-size="14.5" fill="#383838" font-family="Liberation Sans, sans-serif">陇南市</text>
<text x="619.7" y="675.0" font-size="14.5" fill="#383838" font-family="Liberation Sans, sans-serif">甘南藏族自治州</text>
</svg>
<div class="abs" style="left:74px;top:38px;font-size:23.5px;color:#333;line-height:30px;white-space:nowrap">甘肃省36小时降水量实况图（单位：毫米）</div>
<div class="abs" style="left:73px;top:77.5px;font-family:'Liberation Serif',serif;font-size:23px;letter-spacing:0.38px;color:#333;line-height:26px;font-weight:300;white-space:nowrap">2025年05月20日20时-05月22日08时</div>
<div class="abs" style="left:74px;top:118px;font-family:'Liberation Serif',serif;font-size:20px;color:#333;line-height:24px;letter-spacing:4px;font-weight:300;white-space:nowrap">兰州中心气象台</div>
<table style="left:829px;top:36px;width:301px"><colgroup><col style="width:18px"><col style="width:45px"><col style="width:74px"><col style="width:90px"><col style="width:74px"></colgroup><tr class="h" style="height:22.2px"><td colspan="5" style="font-size:13px;letter-spacing:-0.3px;padding-bottom:2px;padding-right:3px">平均降水量(以市州极值降水量排序)</td></tr><tr class="h" style="height:22.2px"><td>序</td><td>地区</td><td>平均降水量</td><td>极值站点</td><td>极值降水量</td></tr><tr style="height:22.2px"><td>1</td><td>兰州</td><td>11.1</td><td>官滩沟风景区</td><td>46.2</td></tr><tr style="height:22.2px"><td>2</td><td>张掖</td><td>8.5</td><td>焉支山林场</td><td>44.0</td></tr><tr style="height:22.2px"><td>3</td><td>定西</td><td>12.5</td><td>团结唐家堡</td><td>42.2</td></tr><tr style="height:22.2px"><td>4</td><td>平凉</td><td>10.7</td><td>东湾</td><td>39.7</td></tr><tr style="height:22.2px"><td>5</td><td>陇南</td><td>9.3</td><td>李坝</td><td>38.6</td></tr><tr style="height:22.2px"><td>6</td><td>临夏</td><td>13.3</td><td>陈家集</td><td>34.9</td></tr><tr style="height:22.2px"><td>7</td><td>天水</td><td>12.5</td><td>庙川</td><td>34.8</td></tr><tr style="height:22.2px"><td>8</td><td style="font-size:12px;letter-spacing:-0.5px">嘉峪关</td><td>7.0</td><td>镜铁山</td><td>32.9</td></tr><tr style="height:22.2px"><td>9</td><td>甘南</td><td>9.4</td><td>新城</td><td>25.3</td></tr><tr style="height:22.2px"><td>10</td><td>庆阳</td><td>10.8</td><td>显胜</td><td>22.9</td></tr><tr style="height:22.2px"><td>11</td><td>白银</td><td>5.0</td><td>东井</td><td>17.5</td></tr><tr style="height:22.2px"><td>12</td><td>酒泉</td><td>2.4</td><td>丰乐</td><td>16.2</td></tr><tr style="height:22.2px"><td>13</td><td>武威</td><td>2.5</td><td>西大滩</td><td>15.8</td></tr><tr style="height:22.2px"><td>14</td><td>金昌</td><td>0.0</td><td></td><td></td></tr><tr style="height:22.2px"><td>15</td><td>全省</td><td>10.8</td><td>官滩沟风景区</td><td>46.2</td></tr></table>
<div class="abs" style="left:72.5px;top:429.5px;width:181px;height:241px;border:1px solid #bcd8f8;background:#fff"></div>
<div class="abs" style="left:89px;top:463.5px;font-size:13px;color:#222;line-height:18px;white-space:nowrap">总站数：2483</div>
<div class="abs" style="left:89px;top:494.2px;font-size:13px;color:#222;line-height:18px;white-space:nowrap">降水站：2218</div>
<div class="abs" style="left:89px;top:524.9px;font-size:13px;color:#222;line-height:18px;white-space:nowrap">50~100毫米站数：0</div>
<div class="abs" style="left:89px;top:555.6px;font-size:13px;color:#222;line-height:18px;white-space:nowrap">≥100 毫米站数：0</div>
<div class="abs" style="left:89px;top:586.3px;font-size:13px;color:#222;line-height:18px;white-space:nowrap">降水站平均：10.8</div>
<div class="abs" style="left:89px;top:617.0px;font-size:13px;color:#222;line-height:18px;white-space:nowrap">兰州城关降水：13.0</div>
<table style="left:252.6px;top:429.5px;width:289.4px"><colgroup><col style="width:26.6px"><col style="width:130.8px"><col style="width:66.3px"><col style="width:65.7px"></colgroup><tr class="h" style="height:21.5px"><td colspan="4">降水量排名前10站点</td></tr><tr class="h" style="height:19.5px"><td>序</td><td>站点名称</td><td>归属县</td><td>降水量</td></tr><tr style="height:20px;line-height:16px"><td>1</td><td>官滩沟风景区</td><td>榆中</td><td>46.2</td></tr><tr style="height:20px;line-height:16px"><td>2</td><td>焉支山林场</td><td>山丹</td><td>44.0</td></tr><tr style="height:20px;line-height:16px"><td>3</td><td>团结唐家堡</td><td>安定</td><td>42.2</td></tr><tr style="height:20px;line-height:16px"><td>4</td><td>东湾</td><td>灵台</td><td>39.7</td></tr><tr style="height:20px;line-height:16px"><td>5</td><td>香泉</td><td>安定</td><td>39.0</td></tr><tr style="height:20px;line-height:16px"><td>6</td><td>马河</td><td>陇西</td><td>38.8</td></tr><tr style="height:20px;line-height:16px"><td>7</td><td>李坝</td><td>礼县</td><td>38.6</td></tr><tr style="height:20px;line-height:16px"><td>8</td><td>镡河</td><td>成县</td><td>37.8</td></tr><tr style="height:20px;line-height:16px"><td>9</td><td>祁青</td><td>肃南</td><td>36.1</td></tr><tr style="height:20px;line-height:16px"><td>10</td><td>李家磨村</td><td>榆中</td><td>35.9</td></tr></table>
<table style="left:72.5px;top:694.4px;width:469.5px"><colgroup><col style="width:87.1px"><col style="width:93.8px"><col style="width:57.1px"><col style="width:55.9px"><col style="width:175.6px"></colgroup><tr class="h" style="height:24px"><td>雨强</td><td>站名名</td><td>归属县</td><td>降水量</td><td>时间段</td></tr><tr style="height:25.6px"><td>1小时雨强</td><td>豆坪</td><td>康县</td><td>28.7</td><td>05月21日23时-00时</td></tr><tr style="height:23.6px"><td>3小时雨强</td><td>团结唐家堡</td><td>安定</td><td>36.7</td><td>05月21日18时-21时</td></tr></table>
<div class="abs" style="left:1054px;top:444px;font-size:21px;color:#111;line-height:28px;white-space:nowrap;letter-spacing:-0.3px">单位:mm</div>
<div class="abs" style="left:1065px;top:478.0px;width:21.5px;height:50.3px;background:#800040;border:1px solid #222"></div>
<div class="abs" style="left:1065px;top:527.3px;width:21.5px;height:49.5px;background:#fa00fa;border:1px solid #222"></div>
<div class="abs" style="left:1065px;top:575.8px;width:21.5px;height:49.5px;background:#0000ff;border:1px solid #222"></div>
<div class="abs" style="left:1065px;top:624.3px;width:21.5px;height:49.5px;background:#61bbff;border:1px solid #222"></div>
<div class="abs" style="left:1065px;top:672.8px;width:21.5px;height:50.0px;background:#3dba3d;border:1px solid #222"></div>
<div class="abs" style="left:1065px;top:721.8px;width:21.5px;height:49.7px;background:#a6f28e;border:1px solid #222"></div>
<div class="abs" style="left:1094.5px;top:516.6px;font-size:21px;letter-spacing:-0.4px;color:#111;line-height:24px">250</div>
<div class="abs" style="left:1094.5px;top:564.5px;font-size:21px;letter-spacing:-0.4px;color:#111;line-height:24px">100</div>
<div class="abs" style="left:1094.5px;top:611.5px;font-size:21px;letter-spacing:-0.4px;color:#111;line-height:24px">50</div>
<div class="abs" style="left:1094.5px;top:658.5px;font-size:21px;letter-spacing:-0.4px;color:#111;line-height:24px">25</div>
<div class="abs" style="left:1094.5px;top:705.0px;font-size:21px;letter-spacing:-0.4px;color:#111;line-height:24px">10</div>
<div class="abs" style="left:1094.5px;top:751.5px;font-size:21px;letter-spacing:-0.4px;color:#111;line-height:24px">0.1</div>
</body></html>
